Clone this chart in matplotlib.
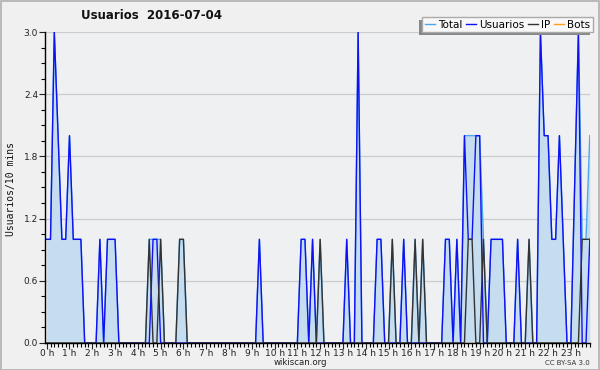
import numpy as np
import matplotlib
matplotlib.use("Agg")
import matplotlib.pyplot as plt
from matplotlib.patches import Rectangle
from matplotlib.ticker import MultipleLocator

# ---------------------------------------------------------------------------
# Data: one value per 10-minute slot (144 slots = 24 h)
# ---------------------------------------------------------------------------

usuarios = [
    1, 1, 3, 2, 1, 1, 2, 1, 1, 1, 0, 0,      # 0 h - 1 h
    0, 0, 1, 0, 1, 1, 1, 0, 0, 0, 0, 0,      # 2 h - 3 h
    0, 0, 0, 0, 1, 1, 0, 0, 0, 0, 0, 0,      # 4 h - 5 h
    0, 0, 0, 0, 0, 0, 0, 0, 0, 0, 0, 0,      # 6 h - 7 h
    0, 0, 0, 0, 0, 0, 0, 0, 1, 0, 0, 0,      # 8 h - 9 h
    0, 0, 0, 0, 0, 0, 0, 1, 1, 0, 1, 0,      # 10 h - 11 h
    0, 0, 0, 0, 0, 0, 0, 1, 0, 0, 3, 0,      # 12 h - 13 h
    0, 0, 0, 1, 1, 0, 0, 0, 0, 0, 1, 0,      # 14 h - 15 h
    0, 0, 0, 0, 0, 0, 0, 0, 0, 1, 1, 0,      # 16 h - 17 h
    1, 0, 2, 1, 1, 2, 2, 0, 0, 1, 1, 1,      # 18 h - 19 h
    1, 0, 0, 0, 1, 0, 0, 0, 0, 0, 3, 2,      # 20 h - 21 h
    2, 1, 1, 2, 1, 0, 0, 1.5, 3, 0, 0, 1,    # 22 h - 23 h
]

ip = [
    0, 0, 0, 0, 0, 0, 0, 0, 0, 0, 0, 0,
    0, 0, 0, 0, 0, 0, 0, 0, 0, 0, 0, 0,
    0, 0, 0, 1, 0, 0, 1, 0, 0, 0, 0, 1,
    1, 0, 0, 0, 0, 0, 0, 0, 0, 0, 0, 0,
    0, 0, 0, 0, 0, 0, 0, 0, 0, 0, 0, 0,
    0, 0, 0, 0, 0, 0, 0, 0, 0, 0, 0, 0,
    1, 0, 0, 0, 0, 0, 0, 0, 0, 0, 0, 0,
    0, 0, 0, 0, 0, 0, 0, 1, 0, 0, 0, 0,
    0, 1, 0, 1, 0, 0, 0, 0, 0, 0, 0, 0,
    0, 0, 0, 1, 1, 0, 0, 1, 0, 0, 0, 0,
    0, 0, 0, 0, 0, 0, 0, 1, 0, 0, 0, 0,
    0, 0, 0, 0, 0, 0, 0, 0, 0, 1, 1, 1,
]

bots = [0] * 144

hour_labels = [f"{h} h" for h in range(24)]
y_ticks = [0.0, 0.6, 1.2, 1.8, 2.4, 3.0]

TITLE  = "Usuarios  2016-07-04"
YLABEL = "Usuarios/10 mins"

# ---------------------------------------------------------------------------
# Figure
# ---------------------------------------------------------------------------

slots = np.arange(len(usuarios))
total = np.array(usuarios) + np.array(ip) + np.array(bots)

fig = plt.figure(figsize=(6.0, 3.7), dpi=100, facecolor="#f0f0f0")
ax = fig.add_axes([0.075, 0.073, 0.908, 0.8405])
ax.set_facecolor("#eef0f2")

ax.fill_between(slots, 0, total, color="#c6ddf0", lw=0, zorder=1)
ax.plot(slots, total,    color="#4da6ec", lw=1.0, label="Total",    zorder=2)
ax.plot(slots, usuarios, color="#1010f5", lw=1.0, label="Usuarios", zorder=3)
ax.plot(slots, ip,       color="#333333", lw=1.0, label="IP",       zorder=4)
ax.plot(slots, bots,     color="#ffa020", lw=1.0, label="Bots",     zorder=1.5)

ax.set_xlim(-0.45, len(usuarios) - 1)
ax.set_ylim(0, 3.0)

ax.set_yticks(y_ticks)
ax.set_yticklabels([f"{v:.1f}" for v in y_ticks])
ax.yaxis.set_minor_locator(MultipleLocator(0.15))
ax.set_xticks(np.arange(0, 144, 6))
ax.set_xticklabels(hour_labels)
ax.xaxis.set_minor_locator(MultipleLocator(1))

ax.tick_params(axis="both", which="major", labelsize=6.5, colors="#222222",
               length=4, width=0.8, pad=1)
ax.tick_params(axis="x", which="major", pad=0)
ax.tick_params(axis="both", which="minor", length=3, width=0.8)

ax.grid(axis="y", color="#cccccc", lw=0.9, zorder=0)
ax.set_axisbelow(True)

for side in ("top", "right"):
    ax.spines[side].set_visible(False)
for side in ("left", "bottom"):
    ax.spines[side].set_color("black")
    ax.spines[side].set_linewidth(1.0)
    ax.spines[side].set_zorder(5)

# ---------------------------------------------------------------------------
# Texts
# ---------------------------------------------------------------------------

fig.text(0.252, 0.957, TITLE, ha="center", va="center",
         fontsize=8.5, fontweight="bold", color="#111111")
fig.text(0.018, 0.49, YLABEL, rotation=90, ha="center", va="center",
         fontsize=7, family="DejaVu Sans Mono", color="#111111")
fig.text(0.5, 0.021, "wikiscan.org", ha="center", va="center",
         fontsize=6.2, color="#222222")
fig.text(0.983, 0.019, "CC BY-SA 3.0", ha="right", va="center",
         fontsize=5, color="#333333")

# legend with a grey shadow offset to the lower left
leg = ax.legend(loc="upper right", bbox_to_anchor=(0.988, 0.954),
                bbox_transform=fig.transFigure, ncol=4, fontsize=7.5,
                handlelength=1.0, handletextpad=0.3, columnspacing=0.3,
                borderpad=0.25, borderaxespad=0, fancybox=False,
                framealpha=1, facecolor="#f8f8f8", edgecolor="#aaaaaa")
leg.set_zorder(10)
fig.canvas.draw()
bb = leg.get_window_extent()
shadow = Rectangle((bb.x0 - 3, bb.y0 - 3), bb.width, bb.height,
                   transform=None, facecolor="#888888", edgecolor="none",
                   clip_on=False, zorder=9)
ax.add_artist(shadow)

# outer frame
fig.patches.append(Rectangle((0.001, 0.001), 0.997, 0.996,
                             transform=fig.transFigure, fill=False,
                             edgecolor="#b0b0b0", lw=1.2))

fig.savefig("out.png", dpi=100, facecolor=fig.get_facecolor())
